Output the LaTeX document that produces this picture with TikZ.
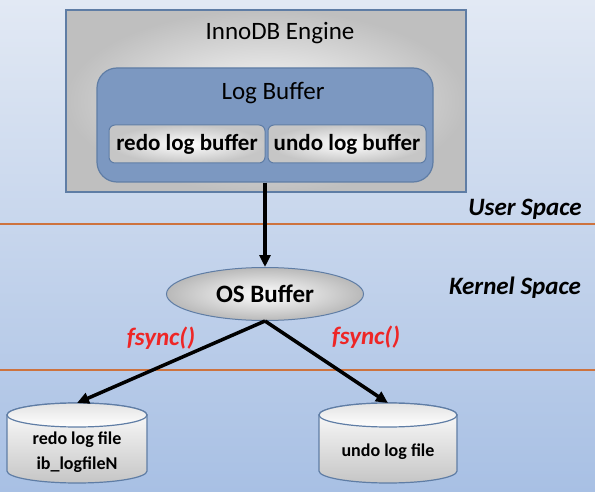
\documentclass[tikz,border=0pt]{standalone}
\usepackage{fontspec}
\setmainfont{Carlito}
\usetikzlibrary{arrows.meta,shapes.geometric}

\definecolor{bgtop}{RGB}{226,233,244}
\definecolor{bgbot}{RGB}{168,192,228}
\definecolor{engedge}{RGB}{95,125,165}
\definecolor{bufblue}{RGB}{124,152,193}
\definecolor{spaceline}{RGB}{205,115,62}
\definecolor{fsyncred}{RGB}{238,38,38}

\tikzset{
  big/.style={font=\fontsize{25}{30}\selectfont},
  enginebox/.style={draw=engedge, line width=1.5pt, inner color=gray!4, outer color=gray!50, minimum width=400pt, minimum height=182pt, inner sep=0pt},
  logbuf/.style={draw=engedge, line width=1.2pt, fill=bufblue, rounded corners=20pt, minimum width=336pt, minimum height=114pt, inner sep=0pt},
  subbuf/.style={draw=engedge, line width=1pt, rounded corners=6pt, inner color=white, outer color=gray!45, minimum height=38pt, inner sep=0pt, font=\fontsize{23}{28}\selectfont\bfseries},
  osbuf/.style={ellipse, draw=engedge, line width=1pt, inner color=white, outer color=gray!55, minimum width=197pt, minimum height=53pt, inner sep=0pt, font=\fontsize{25}{30}\selectfont\bfseries},
  cylbody/.style={draw=engedge, line width=1.2pt, top color=white, bottom color=gray!45},
  cyltop/.style={draw=engedge, line width=1.2pt, top color=gray!22, bottom color=white},
  filetext/.style={align=center, inner sep=0pt, font=\fontsize{18}{25}\selectfont\bfseries},
  spacelabel/.style={font=\fontsize{25}{30}\selectfont\bfseries\itshape},
  fsynclabel/.style={text=fsyncred, font=\fontsize{25}{30}\selectfont\bfseries\itshape},
  flow/.style={-{Triangle[length=12pt,width=11pt]}, line width=3.5pt, black},
}

\begin{document}
\begin{tikzpicture}[x=1pt,y=1pt,yscale=-1]
\useasboundingbox (0,0) rectangle (595,492);
\shade[top color=bgtop, bottom color=bgbot] (0,0) rectangle (595,492);

% user / kernel boundaries
\draw [spaceline, line width=2.4pt] (0,224) -- (595,224);
\draw [spaceline, line width=2.4pt] (0,370) -- (595,370);

\node [enginebox] (engine) at (266,101) {};
\node [big] (enginetitle) at (280,33) {InnoDB Engine};
\node [logbuf] (logbuffer) at (265,125) {};
\node [big] (logtitle) at (273,93) {Log Buffer};
\node [subbuf, minimum width=156pt] (redobuf) at (187,144) {redo log buffer};
\node [subbuf, minimum width=158pt] (undobuf) at (347,144) {undo log buffer};

\node [osbuf] (osbuffer) at (265,294) {OS Buffer};

% log file cylinders
\foreach \cx/\rx in {77/70,388/69}{
  \draw [cylbody] ({\cx-\rx},415) -- ({\cx-\rx},471) arc (180:0:\rx pt and 12pt) -- ({\cx+\rx},415) arc (0:-180:\rx pt and 12pt) -- cycle;
  \draw [cyltop] (\cx,415) ellipse (\rx pt and 12pt);
}
\coordinate (redotop) at (77,403);
\coordinate (undotop) at (388,403);
\node [filetext] (redofile) at (77,452) {redo log file\\ib\_logfileN};
\node [filetext] (undofile) at (388,452) {undo log file};

\node [spacelabel] (user) at (525,209) {User Space};
\node [spacelabel] (kernel) at (515,288) {Kernel Space};
\node [fsynclabel] (fsyncl) at (161,338) {fsync()};
\node [fsynclabel] (fsyncr) at (366,337) {fsync()};

\draw [flow] (logbuffer.south) -- (osbuffer.north);
\draw [flow] (osbuffer.south) -- (redotop);
\draw [flow] (osbuffer.south) -- (undotop);

\end{tikzpicture}
\end{document}
